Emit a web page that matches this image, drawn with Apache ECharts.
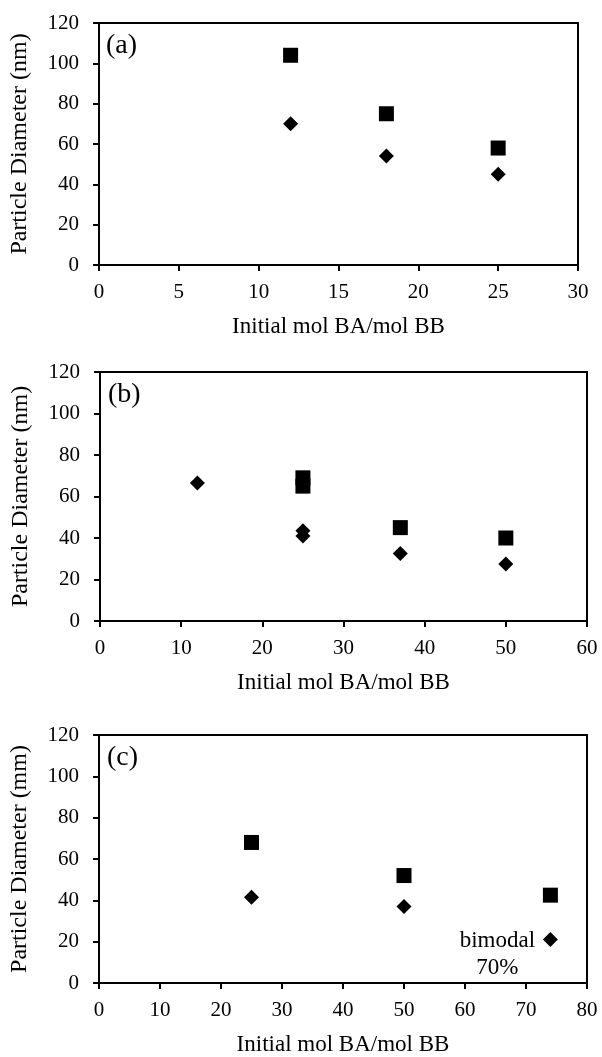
<!DOCTYPE html>
<html>
<head>
<meta charset="utf-8">
<script src="https://cdn.jsdelivr.net/npm/echarts@6/dist/echarts.min.js"></script>
<style>
html,body{margin:0;padding:0;background:#fff;}
#chart{width:602px;height:1057px;}
</style>
</head>
<body>
<div id="chart"></div>
<script>
// Panel (a)
const aSquares = [[12, 104], [18, 75], [25, 58]];
const aDiamonds = [[12, 70], [18, 54], [25, 45]];
// Panel (b)
const bSquares = [[25, 69], [25, 65], [37, 45], [50, 40]];
const bDiamonds = [[12, 66.5], [25, 43.5], [25, 41], [37, 32.5], [50, 27.5]];
// Panel (c)
const cSquares = [[25, 68], [50, 52], [74, 42.5]];
const cDiamonds = [[25, 41.5], [50, 37], [74, 21]];
const cNoteIndex = 2;
const cNote = ['bimodal', '70%'];

const panelLabels = ['(a)', '(b)', '(c)'];
const yTitles = ['Particle Diameter (nm)', 'Particle Diameter (nm)', 'Particle Diameter (mm)'];
const xTitle = 'Initial mol BA/mol BB';
const xMax = [30, 60, 80];
const xStep = [5, 10, 10];
const yMax = 120, yStep = 20;

const FONT = '"Liberation Serif", "Times New Roman", serif';
const grids = [
  {left: 98, top: 23, width: 480, height: 242},
  {left: 100, top: 372, width: 487, height: 249},
  {left: 99, top: 735, width: 488, height: 250}
];

const chart = echarts.init(document.getElementById('chart'), null, {renderer: 'canvas'});

const axisCommon = {
  axisLine: {show: true, lineStyle: {color: '#000', width: 2}},
  axisTick: {show: true, inside: false, length: 6, lineStyle: {color: '#000', width: 2}},
  splitLine: {show: false},
  axisLabel: {color: '#000', fontFamily: FONT, fontSize: 21}
};

const xAxes = grids.map((g, i) => Object.assign({}, axisCommon, {
  type: 'value', gridIndex: i, min: 0, max: xMax[i], interval: xStep[i],
  name: xTitle, nameLocation: 'middle', nameGap: 50,
  nameTextStyle: {color: '#000', fontFamily: FONT, fontSize: 23},
  axisLabel: Object.assign({}, axisCommon.axisLabel, {margin: 17})
}));
const yAxes = grids.map((g, i) => Object.assign({}, axisCommon, {
  type: 'value', gridIndex: i, min: 0, max: yMax, interval: yStep,
  name: yTitles[i], nameLocation: 'middle', nameGap: 67,
  nameTextStyle: {color: '#000', fontFamily: FONT, fontSize: 24},
  axisLabel: Object.assign({}, axisCommon.axisLabel, {margin: 20})
}));

const sq = (data, i) => ({
  type: 'scatter', xAxisIndex: i, yAxisIndex: i, data: data,
  symbol: 'rect', symbolSize: 15, itemStyle: {color: '#000', opacity: 1}, silent: true
});
const dm = (data, i) => ({
  type: 'scatter', xAxisIndex: i, yAxisIndex: i, data: data,
  symbol: 'diamond', symbolSize: 15, itemStyle: {color: '#000', opacity: 1}, silent: true
});

const cDiamondData = cDiamonds.map((p, k) => k === cNoteIndex ? {
  value: p,
  label: {
    show: true, position: 'inside', align: 'center', verticalAlign: 'middle',
    offset: [-53, 15],
    formatter: cNote.join('\n'), color: '#000', fontFamily: FONT, fontSize: 23, lineHeight: 27
  }
} : p);

const option = {
  animation: false,
  backgroundColor: '#fff',
  grid: grids.map(g => Object.assign({show: true, borderColor: '#000', borderWidth: 2, backgroundColor: 'transparent'}, g)),
  xAxis: xAxes,
  yAxis: yAxes,
  graphic: grids.map((g, i) => ({
    type: 'text', left: g.left + 8, top: g.top + 9,
    style: {text: panelLabels[i], fill: '#000', font: '28px "Liberation Serif", serif'}
  })),
  series: [
    sq(aSquares, 0), dm(aDiamonds, 0),
    sq(bSquares, 1), dm(bDiamonds, 1),
    sq(cSquares, 2), dm(cDiamondData, 2)
  ]
};
chart.setOption(option);
</script>
</body>
</html>
